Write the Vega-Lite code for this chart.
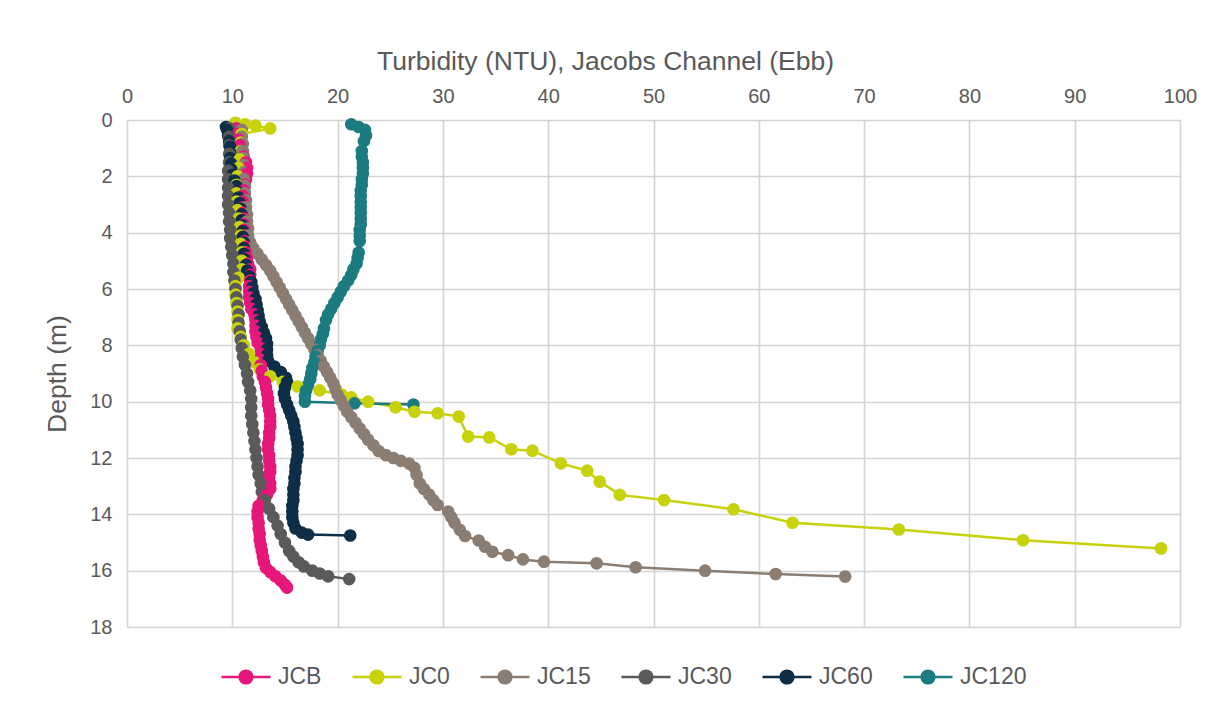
{
  "$schema": "https://vega.github.io/schema/vega-lite/v6.json",
  "width": 1053,
  "height": 507,
  "autosize": {"type": "none"},
  "padding": {"left": 127, "top": 120, "right": 46, "bottom": 81},
  "background": "white",
  "config": {
    "font": "Liberation Sans",
    "view": {"stroke": null},
    "axis": {
      "grid": true,
      "gridColor": "#d4d4d4",
      "gridWidth": 1.6,
      "domain": false,
      "ticks": false,
      "labelFlush": false,
      "labelColor": "#595959",
      "titleColor": "#595959",
      "labelFontSize": 20,
      "titleFontSize": 26.5,
      "titleFontWeight": "normal",
      "labelFont": "Liberation Sans",
      "titleFont": "Liberation Sans"
    },
    "legend": {
      "labelColor": "#595959",
      "labelFontSize": 23,
      "labelFont": "Liberation Sans"
    }
  },
  "data": {
    "values": [
      {"series": "JCB", "depth": 0.3, "turbidity": 10.4},
      {"series": "JCB", "depth": 0.5, "turbidity": 10.5},
      {"series": "JCB", "depth": 0.7, "turbidity": 10.6},
      {"series": "JCB", "depth": 0.9, "turbidity": 10.7},
      {"series": "JCB", "depth": 1.1, "turbidity": 10.9},
      {"series": "JCB", "depth": 1.3, "turbidity": 11.1},
      {"series": "JCB", "depth": 1.5, "turbidity": 11.3},
      {"series": "JCB", "depth": 1.7, "turbidity": 11.4},
      {"series": "JCB", "depth": 1.9, "turbidity": 11.4},
      {"series": "JCB", "depth": 2.1, "turbidity": 11.3},
      {"series": "JCB", "depth": 2.3, "turbidity": 11.2},
      {"series": "JCB", "depth": 2.5, "turbidity": 11.1},
      {"series": "JCB", "depth": 2.7, "turbidity": 11.0},
      {"series": "JCB", "depth": 2.9, "turbidity": 11.0},
      {"series": "JCB", "depth": 3.1, "turbidity": 11.0},
      {"series": "JCB", "depth": 3.3, "turbidity": 11.0},
      {"series": "JCB", "depth": 3.5, "turbidity": 11.1},
      {"series": "JCB", "depth": 3.7, "turbidity": 11.1},
      {"series": "JCB", "depth": 3.9, "turbidity": 11.1},
      {"series": "JCB", "depth": 4.1, "turbidity": 11.2},
      {"series": "JCB", "depth": 4.3, "turbidity": 11.2},
      {"series": "JCB", "depth": 4.5, "turbidity": 11.3},
      {"series": "JCB", "depth": 4.7, "turbidity": 11.3},
      {"series": "JCB", "depth": 4.9, "turbidity": 11.4},
      {"series": "JCB", "depth": 5.1, "turbidity": 11.5},
      {"series": "JCB", "depth": 5.3, "turbidity": 11.7},
      {"series": "JCB", "depth": 5.5, "turbidity": 11.7},
      {"series": "JCB", "depth": 5.7, "turbidity": 11.7},
      {"series": "JCB", "depth": 5.9, "turbidity": 11.6},
      {"series": "JCB", "depth": 6.1, "turbidity": 11.6},
      {"series": "JCB", "depth": 6.3, "turbidity": 11.6},
      {"series": "JCB", "depth": 6.5, "turbidity": 11.7},
      {"series": "JCB", "depth": 6.7, "turbidity": 11.8},
      {"series": "JCB", "depth": 6.9, "turbidity": 12.1},
      {"series": "JCB", "depth": 7.1, "turbidity": 12.2},
      {"series": "JCB", "depth": 7.3, "turbidity": 12.2},
      {"series": "JCB", "depth": 7.5, "turbidity": 12.2},
      {"series": "JCB", "depth": 7.7, "turbidity": 12.3},
      {"series": "JCB", "depth": 7.9, "turbidity": 12.4},
      {"series": "JCB", "depth": 8.1, "turbidity": 12.7},
      {"series": "JCB", "depth": 8.3, "turbidity": 12.7},
      {"series": "JCB", "depth": 8.5, "turbidity": 12.6},
      {"series": "JCB", "depth": 8.7, "turbidity": 12.7},
      {"series": "JCB", "depth": 8.9, "turbidity": 12.8},
      {"series": "JCB", "depth": 9.1, "turbidity": 12.9},
      {"series": "JCB", "depth": 9.3, "turbidity": 13.1},
      {"series": "JCB", "depth": 9.5, "turbidity": 13.2},
      {"series": "JCB", "depth": 9.7, "turbidity": 13.3},
      {"series": "JCB", "depth": 9.9, "turbidity": 13.4},
      {"series": "JCB", "depth": 10.1, "turbidity": 13.4},
      {"series": "JCB", "depth": 10.3, "turbidity": 13.5},
      {"series": "JCB", "depth": 10.5, "turbidity": 13.6},
      {"series": "JCB", "depth": 10.7, "turbidity": 13.6},
      {"series": "JCB", "depth": 10.9, "turbidity": 13.6},
      {"series": "JCB", "depth": 11.1, "turbidity": 13.5},
      {"series": "JCB", "depth": 11.3, "turbidity": 13.5},
      {"series": "JCB", "depth": 11.5, "turbidity": 13.4},
      {"series": "JCB", "depth": 11.7, "turbidity": 13.4},
      {"series": "JCB", "depth": 11.9, "turbidity": 13.5},
      {"series": "JCB", "depth": 12.1, "turbidity": 13.5},
      {"series": "JCB", "depth": 12.3, "turbidity": 13.6},
      {"series": "JCB", "depth": 12.5, "turbidity": 13.6},
      {"series": "JCB", "depth": 12.7, "turbidity": 13.5},
      {"series": "JCB", "depth": 12.9, "turbidity": 13.6},
      {"series": "JCB", "depth": 13.1, "turbidity": 13.6},
      {"series": "JCB", "depth": 13.3, "turbidity": 13.3},
      {"series": "JCB", "depth": 13.5, "turbidity": 12.9},
      {"series": "JCB", "depth": 13.7, "turbidity": 12.5},
      {"series": "JCB", "depth": 13.9, "turbidity": 12.4},
      {"series": "JCB", "depth": 14.1, "turbidity": 12.4},
      {"series": "JCB", "depth": 14.3, "turbidity": 12.5},
      {"series": "JCB", "depth": 14.5, "turbidity": 12.5},
      {"series": "JCB", "depth": 14.7, "turbidity": 12.6},
      {"series": "JCB", "depth": 14.9, "turbidity": 12.6},
      {"series": "JCB", "depth": 15.1, "turbidity": 12.7},
      {"series": "JCB", "depth": 15.3, "turbidity": 12.8},
      {"series": "JCB", "depth": 15.5, "turbidity": 12.9},
      {"series": "JCB", "depth": 15.7, "turbidity": 13.0},
      {"series": "JCB", "depth": 15.9, "turbidity": 13.2},
      {"series": "JCB", "depth": 16.05, "turbidity": 13.6},
      {"series": "JCB", "depth": 16.2, "turbidity": 14.1},
      {"series": "JCB", "depth": 16.35, "turbidity": 14.6},
      {"series": "JCB", "depth": 16.5, "turbidity": 15.0},
      {"series": "JCB", "depth": 16.6, "turbidity": 15.2},

      {"series": "JC0", "depth": 0.1, "turbidity": 10.3},
      {"series": "JC0", "depth": 0.15, "turbidity": 11.2},
      {"series": "JC0", "depth": 0.2, "turbidity": 12.2},
      {"series": "JC0", "depth": 0.3, "turbidity": 13.6},
      {"series": "JC0", "depth": 0.5, "turbidity": 10.9},
      {"series": "JC0", "depth": 0.8, "turbidity": 10.8},
      {"series": "JC0", "depth": 1.1, "turbidity": 10.8},
      {"series": "JC0", "depth": 1.4, "turbidity": 10.7},
      {"series": "JC0", "depth": 1.7, "turbidity": 10.6},
      {"series": "JC0", "depth": 2.0, "turbidity": 10.5},
      {"series": "JC0", "depth": 2.3, "turbidity": 10.4},
      {"series": "JC0", "depth": 2.6, "turbidity": 10.4},
      {"series": "JC0", "depth": 2.9, "turbidity": 10.4},
      {"series": "JC0", "depth": 3.2, "turbidity": 10.5},
      {"series": "JC0", "depth": 3.5, "turbidity": 10.6},
      {"series": "JC0", "depth": 3.8, "turbidity": 10.7},
      {"series": "JC0", "depth": 4.1, "turbidity": 10.8},
      {"series": "JC0", "depth": 4.4, "turbidity": 10.8},
      {"series": "JC0", "depth": 4.7, "turbidity": 10.9},
      {"series": "JC0", "depth": 5.0, "turbidity": 10.9},
      {"series": "JC0", "depth": 5.3, "turbidity": 10.9},
      {"series": "JC0", "depth": 5.6, "turbidity": 10.6},
      {"series": "JC0", "depth": 5.9, "turbidity": 10.3},
      {"series": "JC0", "depth": 6.2, "turbidity": 10.3},
      {"series": "JC0", "depth": 6.5, "turbidity": 10.4},
      {"series": "JC0", "depth": 6.8, "turbidity": 10.5},
      {"series": "JC0", "depth": 7.1, "turbidity": 10.5},
      {"series": "JC0", "depth": 7.4, "turbidity": 10.5},
      {"series": "JC0", "depth": 7.7, "turbidity": 10.8},
      {"series": "JC0", "depth": 8.0, "turbidity": 11.1},
      {"series": "JC0", "depth": 8.3, "turbidity": 11.6},
      {"series": "JC0", "depth": 8.6, "turbidity": 12.1},
      {"series": "JC0", "depth": 8.85, "turbidity": 12.6},
      {"series": "JC0", "depth": 9.1, "turbidity": 13.6},
      {"series": "JC0", "depth": 9.3, "turbidity": 14.8},
      {"series": "JC0", "depth": 9.46, "turbidity": 16.2},
      {"series": "JC0", "depth": 9.6, "turbidity": 18.3},
      {"series": "JC0", "depth": 9.75, "turbidity": 20.4},
      {"series": "JC0", "depth": 9.85, "turbidity": 21.3},
      {"series": "JC0", "depth": 10.0, "turbidity": 22.9},
      {"series": "JC0", "depth": 10.2, "turbidity": 25.5},
      {"series": "JC0", "depth": 10.36, "turbidity": 27.3},
      {"series": "JC0", "depth": 10.41, "turbidity": 29.5},
      {"series": "JC0", "depth": 10.53, "turbidity": 31.5},
      {"series": "JC0", "depth": 11.24, "turbidity": 32.4},
      {"series": "JC0", "depth": 11.27, "turbidity": 34.4},
      {"series": "JC0", "depth": 11.69, "turbidity": 36.5},
      {"series": "JC0", "depth": 11.74, "turbidity": 38.5},
      {"series": "JC0", "depth": 12.19, "turbidity": 41.2},
      {"series": "JC0", "depth": 12.45, "turbidity": 43.7},
      {"series": "JC0", "depth": 12.84, "turbidity": 44.9},
      {"series": "JC0", "depth": 13.31, "turbidity": 46.8},
      {"series": "JC0", "depth": 13.49, "turbidity": 51.0},
      {"series": "JC0", "depth": 13.82, "turbidity": 57.6},
      {"series": "JC0", "depth": 14.3, "turbidity": 63.2},
      {"series": "JC0", "depth": 14.54, "turbidity": 73.3},
      {"series": "JC0", "depth": 14.92, "turbidity": 85.1},
      {"series": "JC0", "depth": 15.21, "turbidity": 98.2},

      {"series": "JC15", "depth": 0.35, "turbidity": 10.9},
      {"series": "JC15", "depth": 0.6, "turbidity": 10.9},
      {"series": "JC15", "depth": 0.85, "turbidity": 11.0},
      {"series": "JC15", "depth": 1.1, "turbidity": 11.0},
      {"series": "JC15", "depth": 1.35, "turbidity": 11.1},
      {"series": "JC15", "depth": 1.6, "turbidity": 11.1},
      {"series": "JC15", "depth": 1.85, "turbidity": 11.1},
      {"series": "JC15", "depth": 2.1, "turbidity": 11.1},
      {"series": "JC15", "depth": 2.35, "turbidity": 11.2},
      {"series": "JC15", "depth": 2.6, "turbidity": 11.2},
      {"series": "JC15", "depth": 2.85, "turbidity": 11.3},
      {"series": "JC15", "depth": 3.1, "turbidity": 11.3},
      {"series": "JC15", "depth": 3.35, "turbidity": 11.4},
      {"series": "JC15", "depth": 3.6, "turbidity": 11.4},
      {"series": "JC15", "depth": 3.85, "turbidity": 11.5},
      {"series": "JC15", "depth": 4.1, "turbidity": 11.5},
      {"series": "JC15", "depth": 4.35, "turbidity": 11.7},
      {"series": "JC15", "depth": 4.55, "turbidity": 12.0},
      {"series": "JC15", "depth": 4.75, "turbidity": 12.4},
      {"series": "JC15", "depth": 4.95, "turbidity": 12.8},
      {"series": "JC15", "depth": 5.15, "turbidity": 13.2},
      {"series": "JC15", "depth": 5.35, "turbidity": 13.6},
      {"series": "JC15", "depth": 5.55, "turbidity": 13.9},
      {"series": "JC15", "depth": 5.75, "turbidity": 14.2},
      {"series": "JC15", "depth": 5.95, "turbidity": 14.5},
      {"series": "JC15", "depth": 6.15, "turbidity": 14.8},
      {"series": "JC15", "depth": 6.35, "turbidity": 15.1},
      {"series": "JC15", "depth": 6.55, "turbidity": 15.4},
      {"series": "JC15", "depth": 6.75, "turbidity": 15.7},
      {"series": "JC15", "depth": 6.95, "turbidity": 16.0},
      {"series": "JC15", "depth": 7.15, "turbidity": 16.3},
      {"series": "JC15", "depth": 7.35, "turbidity": 16.6},
      {"series": "JC15", "depth": 7.55, "turbidity": 16.9},
      {"series": "JC15", "depth": 7.75, "turbidity": 17.2},
      {"series": "JC15", "depth": 7.95, "turbidity": 17.5},
      {"series": "JC15", "depth": 8.15, "turbidity": 17.8},
      {"series": "JC15", "depth": 8.35, "turbidity": 18.1},
      {"series": "JC15", "depth": 8.55, "turbidity": 18.4},
      {"series": "JC15", "depth": 8.75, "turbidity": 18.7},
      {"series": "JC15", "depth": 8.95, "turbidity": 19.0},
      {"series": "JC15", "depth": 9.15, "turbidity": 19.3},
      {"series": "JC15", "depth": 9.35, "turbidity": 19.6},
      {"series": "JC15", "depth": 9.55, "turbidity": 19.8},
      {"series": "JC15", "depth": 9.75, "turbidity": 20.0},
      {"series": "JC15", "depth": 9.95, "turbidity": 20.3},
      {"series": "JC15", "depth": 10.15, "turbidity": 20.6},
      {"series": "JC15", "depth": 10.35, "turbidity": 20.9},
      {"series": "JC15", "depth": 10.55, "turbidity": 21.3},
      {"series": "JC15", "depth": 10.75, "turbidity": 21.7},
      {"series": "JC15", "depth": 10.95, "turbidity": 22.1},
      {"series": "JC15", "depth": 11.15, "turbidity": 22.5},
      {"series": "JC15", "depth": 11.35, "turbidity": 22.9},
      {"series": "JC15", "depth": 11.55, "turbidity": 23.4},
      {"series": "JC15", "depth": 11.75, "turbidity": 23.9},
      {"series": "JC15", "depth": 11.9, "turbidity": 24.6},
      {"series": "JC15", "depth": 12.0, "turbidity": 25.3},
      {"series": "JC15", "depth": 12.1, "turbidity": 26.0},
      {"series": "JC15", "depth": 12.2, "turbidity": 26.8},
      {"series": "JC15", "depth": 12.35, "turbidity": 27.3},
      {"series": "JC15", "depth": 12.6, "turbidity": 27.5},
      {"series": "JC15", "depth": 12.9, "turbidity": 27.8},
      {"series": "JC15", "depth": 13.1, "turbidity": 28.2},
      {"series": "JC15", "depth": 13.3, "turbidity": 28.7},
      {"series": "JC15", "depth": 13.5, "turbidity": 29.1},
      {"series": "JC15", "depth": 13.67, "turbidity": 29.5},
      {"series": "JC15", "depth": 13.9, "turbidity": 30.5},
      {"series": "JC15", "depth": 14.1, "turbidity": 30.8},
      {"series": "JC15", "depth": 14.3, "turbidity": 31.1},
      {"series": "JC15", "depth": 14.55, "turbidity": 31.6},
      {"series": "JC15", "depth": 14.77, "turbidity": 32.1},
      {"series": "JC15", "depth": 14.93, "turbidity": 33.4},
      {"series": "JC15", "depth": 15.15, "turbidity": 34.0},
      {"series": "JC15", "depth": 15.33, "turbidity": 34.7},
      {"series": "JC15", "depth": 15.45, "turbidity": 36.2},
      {"series": "JC15", "depth": 15.6, "turbidity": 37.6},
      {"series": "JC15", "depth": 15.68, "turbidity": 39.6},
      {"series": "JC15", "depth": 15.74, "turbidity": 44.6},
      {"series": "JC15", "depth": 15.88, "turbidity": 48.3},
      {"series": "JC15", "depth": 16.0, "turbidity": 54.9},
      {"series": "JC15", "depth": 16.12, "turbidity": 61.6},
      {"series": "JC15", "depth": 16.21, "turbidity": 68.2},

      {"series": "JC30", "depth": 0.3, "turbidity": 9.7},
      {"series": "JC30", "depth": 0.6, "turbidity": 9.7},
      {"series": "JC30", "depth": 0.9, "turbidity": 9.7},
      {"series": "JC30", "depth": 1.2, "turbidity": 9.7},
      {"series": "JC30", "depth": 1.5, "turbidity": 9.7},
      {"series": "JC30", "depth": 1.8, "turbidity": 9.6},
      {"series": "JC30", "depth": 2.1, "turbidity": 9.6},
      {"series": "JC30", "depth": 2.4, "turbidity": 9.6},
      {"series": "JC30", "depth": 2.7, "turbidity": 9.6},
      {"series": "JC30", "depth": 3.0, "turbidity": 9.6},
      {"series": "JC30", "depth": 3.3, "turbidity": 9.7},
      {"series": "JC30", "depth": 3.6, "turbidity": 9.7},
      {"series": "JC30", "depth": 3.9, "turbidity": 9.8},
      {"series": "JC30", "depth": 4.2, "turbidity": 9.8},
      {"series": "JC30", "depth": 4.5, "turbidity": 9.9},
      {"series": "JC30", "depth": 4.8, "turbidity": 10.0},
      {"series": "JC30", "depth": 5.1, "turbidity": 10.1},
      {"series": "JC30", "depth": 5.4, "turbidity": 10.1},
      {"series": "JC30", "depth": 5.7, "turbidity": 10.2},
      {"series": "JC30", "depth": 6.0, "turbidity": 10.3},
      {"series": "JC30", "depth": 6.3, "turbidity": 10.4},
      {"series": "JC30", "depth": 6.6, "turbidity": 10.5},
      {"series": "JC30", "depth": 6.9, "turbidity": 10.6},
      {"series": "JC30", "depth": 7.2, "turbidity": 10.6},
      {"series": "JC30", "depth": 7.5, "turbidity": 10.7},
      {"series": "JC30", "depth": 7.8, "turbidity": 10.8},
      {"series": "JC30", "depth": 8.1, "turbidity": 10.9},
      {"series": "JC30", "depth": 8.4, "turbidity": 11.0},
      {"series": "JC30", "depth": 8.7, "turbidity": 11.2},
      {"series": "JC30", "depth": 9.0, "turbidity": 11.4},
      {"series": "JC30", "depth": 9.3, "turbidity": 11.5},
      {"series": "JC30", "depth": 9.6, "turbidity": 11.7},
      {"series": "JC30", "depth": 9.9, "turbidity": 11.8},
      {"series": "JC30", "depth": 10.2, "turbidity": 11.8},
      {"series": "JC30", "depth": 10.5, "turbidity": 11.8},
      {"series": "JC30", "depth": 10.8, "turbidity": 11.9},
      {"series": "JC30", "depth": 11.1, "turbidity": 12.0},
      {"series": "JC30", "depth": 11.4, "turbidity": 12.1},
      {"series": "JC30", "depth": 11.7, "turbidity": 12.2},
      {"series": "JC30", "depth": 12.0, "turbidity": 12.3},
      {"series": "JC30", "depth": 12.3, "turbidity": 12.4},
      {"series": "JC30", "depth": 12.6, "turbidity": 12.5},
      {"series": "JC30", "depth": 12.9, "turbidity": 12.7},
      {"series": "JC30", "depth": 13.2, "turbidity": 12.8},
      {"series": "JC30", "depth": 13.5, "turbidity": 13.1},
      {"series": "JC30", "depth": 13.8, "turbidity": 13.5},
      {"series": "JC30", "depth": 14.1, "turbidity": 13.9},
      {"series": "JC30", "depth": 14.4, "turbidity": 14.3},
      {"series": "JC30", "depth": 14.7, "turbidity": 14.6},
      {"series": "JC30", "depth": 15.0, "turbidity": 15.0},
      {"series": "JC30", "depth": 15.3, "turbidity": 15.4},
      {"series": "JC30", "depth": 15.5, "turbidity": 15.8},
      {"series": "JC30", "depth": 15.7, "turbidity": 16.3},
      {"series": "JC30", "depth": 15.85, "turbidity": 16.8},
      {"series": "JC30", "depth": 16.0, "turbidity": 17.6},
      {"series": "JC30", "depth": 16.1, "turbidity": 18.3},
      {"series": "JC30", "depth": 16.2, "turbidity": 19.1},
      {"series": "JC30", "depth": 16.3, "turbidity": 21.1},

      {"series": "JC60", "depth": 0.25, "turbidity": 9.4},
      {"series": "JC60", "depth": 0.35, "turbidity": 9.5},
      {"series": "JC60", "depth": 0.55, "turbidity": 9.6},
      {"series": "JC60", "depth": 0.75, "turbidity": 9.7},
      {"series": "JC60", "depth": 0.95, "turbidity": 9.8},
      {"series": "JC60", "depth": 1.15, "turbidity": 9.8},
      {"series": "JC60", "depth": 1.35, "turbidity": 9.8},
      {"series": "JC60", "depth": 1.55, "turbidity": 9.9},
      {"series": "JC60", "depth": 1.75, "turbidity": 9.9},
      {"series": "JC60", "depth": 1.95, "turbidity": 10.0},
      {"series": "JC60", "depth": 2.15, "turbidity": 10.2},
      {"series": "JC60", "depth": 2.35, "turbidity": 10.4},
      {"series": "JC60", "depth": 2.55, "turbidity": 10.5},
      {"series": "JC60", "depth": 2.75, "turbidity": 10.6},
      {"series": "JC60", "depth": 2.95, "turbidity": 10.7},
      {"series": "JC60", "depth": 3.15, "turbidity": 10.8},
      {"series": "JC60", "depth": 3.35, "turbidity": 10.9},
      {"series": "JC60", "depth": 3.55, "turbidity": 10.9},
      {"series": "JC60", "depth": 3.75, "turbidity": 11.0},
      {"series": "JC60", "depth": 3.95, "turbidity": 11.0},
      {"series": "JC60", "depth": 4.15, "turbidity": 11.0},
      {"series": "JC60", "depth": 4.35, "turbidity": 11.1},
      {"series": "JC60", "depth": 4.55, "turbidity": 11.1},
      {"series": "JC60", "depth": 4.75, "turbidity": 11.1},
      {"series": "JC60", "depth": 4.95, "turbidity": 11.2},
      {"series": "JC60", "depth": 5.15, "turbidity": 11.3},
      {"series": "JC60", "depth": 5.35, "turbidity": 11.4},
      {"series": "JC60", "depth": 5.55, "turbidity": 11.6},
      {"series": "JC60", "depth": 5.75, "turbidity": 11.8},
      {"series": "JC60", "depth": 5.95, "turbidity": 11.9},
      {"series": "JC60", "depth": 6.15, "turbidity": 12.0},
      {"series": "JC60", "depth": 6.35, "turbidity": 12.2},
      {"series": "JC60", "depth": 6.55, "turbidity": 12.3},
      {"series": "JC60", "depth": 6.75, "turbidity": 12.4},
      {"series": "JC60", "depth": 6.95, "turbidity": 12.5},
      {"series": "JC60", "depth": 7.15, "turbidity": 12.6},
      {"series": "JC60", "depth": 7.35, "turbidity": 12.8},
      {"series": "JC60", "depth": 7.55, "turbidity": 13.0},
      {"series": "JC60", "depth": 7.75, "turbidity": 13.2},
      {"series": "JC60", "depth": 7.95, "turbidity": 13.3},
      {"series": "JC60", "depth": 8.15, "turbidity": 13.3},
      {"series": "JC60", "depth": 8.35, "turbidity": 13.3},
      {"series": "JC60", "depth": 8.55, "turbidity": 13.4},
      {"series": "JC60", "depth": 8.75, "turbidity": 14.0},
      {"series": "JC60", "depth": 8.95, "turbidity": 14.6},
      {"series": "JC60", "depth": 9.15, "turbidity": 15.1},
      {"series": "JC60", "depth": 9.3, "turbidity": 15.2},
      {"series": "JC60", "depth": 9.5, "turbidity": 15.0},
      {"series": "JC60", "depth": 9.7, "turbidity": 14.9},
      {"series": "JC60", "depth": 9.9, "turbidity": 15.0},
      {"series": "JC60", "depth": 10.1, "turbidity": 15.2},
      {"series": "JC60", "depth": 10.3, "turbidity": 15.4},
      {"series": "JC60", "depth": 10.5, "turbidity": 15.6},
      {"series": "JC60", "depth": 10.7, "turbidity": 15.8},
      {"series": "JC60", "depth": 10.9, "turbidity": 15.9},
      {"series": "JC60", "depth": 11.1, "turbidity": 16.0},
      {"series": "JC60", "depth": 11.3, "turbidity": 16.1},
      {"series": "JC60", "depth": 11.5, "turbidity": 16.2},
      {"series": "JC60", "depth": 11.7, "turbidity": 16.2},
      {"series": "JC60", "depth": 11.9, "turbidity": 16.2},
      {"series": "JC60", "depth": 12.1, "turbidity": 16.1},
      {"series": "JC60", "depth": 12.3, "turbidity": 16.0},
      {"series": "JC60", "depth": 12.5, "turbidity": 16.0},
      {"series": "JC60", "depth": 12.7, "turbidity": 15.9},
      {"series": "JC60", "depth": 12.9, "turbidity": 15.9},
      {"series": "JC60", "depth": 13.1, "turbidity": 15.8},
      {"series": "JC60", "depth": 13.3, "turbidity": 15.8},
      {"series": "JC60", "depth": 13.5, "turbidity": 15.8},
      {"series": "JC60", "depth": 13.7, "turbidity": 15.7},
      {"series": "JC60", "depth": 13.9, "turbidity": 15.7},
      {"series": "JC60", "depth": 14.1, "turbidity": 15.7},
      {"series": "JC60", "depth": 14.3, "turbidity": 15.8},
      {"series": "JC60", "depth": 14.5, "turbidity": 16.0},
      {"series": "JC60", "depth": 14.65, "turbidity": 16.6},
      {"series": "JC60", "depth": 14.72, "turbidity": 17.2},
      {"series": "JC60", "depth": 14.75, "turbidity": 21.2},

      {"series": "JC120", "depth": 0.15, "turbidity": 21.3},
      {"series": "JC120", "depth": 0.25, "turbidity": 22.0},
      {"series": "JC120", "depth": 0.35, "turbidity": 22.6},
      {"series": "JC120", "depth": 0.55, "turbidity": 22.7},
      {"series": "JC120", "depth": 0.75, "turbidity": 22.5},
      {"series": "JC120", "depth": 1.1, "turbidity": 22.3},
      {"series": "JC120", "depth": 1.3, "turbidity": 22.3},
      {"series": "JC120", "depth": 1.5, "turbidity": 22.4},
      {"series": "JC120", "depth": 1.7, "turbidity": 22.4},
      {"series": "JC120", "depth": 1.9, "turbidity": 22.4},
      {"series": "JC120", "depth": 2.1, "turbidity": 22.3},
      {"series": "JC120", "depth": 2.3, "turbidity": 22.3},
      {"series": "JC120", "depth": 2.5, "turbidity": 22.2},
      {"series": "JC120", "depth": 2.7, "turbidity": 22.2},
      {"series": "JC120", "depth": 2.9, "turbidity": 22.2},
      {"series": "JC120", "depth": 3.1, "turbidity": 22.2},
      {"series": "JC120", "depth": 3.3, "turbidity": 22.2},
      {"series": "JC120", "depth": 3.5, "turbidity": 22.2},
      {"series": "JC120", "depth": 3.7, "turbidity": 22.2},
      {"series": "JC120", "depth": 3.9, "turbidity": 22.1},
      {"series": "JC120", "depth": 4.1, "turbidity": 22.1},
      {"series": "JC120", "depth": 4.3, "turbidity": 22.1},
      {"series": "JC120", "depth": 4.7, "turbidity": 22.0},
      {"series": "JC120", "depth": 4.9, "turbidity": 21.9},
      {"series": "JC120", "depth": 5.1, "turbidity": 21.8},
      {"series": "JC120", "depth": 5.3, "turbidity": 21.5},
      {"series": "JC120", "depth": 5.5, "turbidity": 21.3},
      {"series": "JC120", "depth": 5.7, "turbidity": 21.0},
      {"series": "JC120", "depth": 5.9, "turbidity": 20.6},
      {"series": "JC120", "depth": 6.1, "turbidity": 20.3},
      {"series": "JC120", "depth": 6.3, "turbidity": 20.0},
      {"series": "JC120", "depth": 6.5, "turbidity": 19.7},
      {"series": "JC120", "depth": 6.7, "turbidity": 19.4},
      {"series": "JC120", "depth": 6.9, "turbidity": 19.1},
      {"series": "JC120", "depth": 7.1, "turbidity": 18.9},
      {"series": "JC120", "depth": 7.4, "turbidity": 18.7},
      {"series": "JC120", "depth": 7.6, "turbidity": 18.6},
      {"series": "JC120", "depth": 7.8, "turbidity": 18.4},
      {"series": "JC120", "depth": 8.0, "turbidity": 18.3},
      {"series": "JC120", "depth": 8.2, "turbidity": 18.1},
      {"series": "JC120", "depth": 8.4, "turbidity": 17.9},
      {"series": "JC120", "depth": 8.6, "turbidity": 17.8},
      {"series": "JC120", "depth": 8.8, "turbidity": 17.6},
      {"series": "JC120", "depth": 9.0, "turbidity": 17.5},
      {"series": "JC120", "depth": 9.2, "turbidity": 17.4},
      {"series": "JC120", "depth": 9.4, "turbidity": 17.2},
      {"series": "JC120", "depth": 9.6, "turbidity": 17.0},
      {"series": "JC120", "depth": 9.8, "turbidity": 16.9},
      {"series": "JC120", "depth": 10.0, "turbidity": 16.9},
      {"series": "JC120", "depth": 10.06, "turbidity": 21.6},
      {"series": "JC120", "depth": 10.1, "turbidity": 27.2}
    ]
  },
  "encoding": {
    "x": {
      "field": "turbidity",
      "type": "quantitative",
      "scale": {"domain": [0, 100], "nice": false, "zero": false},
      "axis": {
        "orient": "top",
        "title": "Turbidity (NTU), Jacobs Channel (Ebb)",
        "values": [0, 10, 20, 30, 40, 50, 60, 70, 80, 90, 100],
        "labelPadding": 14,
        "titlePadding": 11,
        "titleX": 478
      }
    },
    "y": {
      "field": "depth",
      "type": "quantitative",
      "scale": {"domain": [0, 18], "nice": false, "reverse": true},
      "axis": {
        "title": "Depth (m)",
        "values": [0, 2, 4, 6, 8, 10, 12, 14, 16, 18],
        "labelPadding": 15,
        "titlePadding": 18
      }
    },
    "color": {
      "field": "series",
      "type": "nominal",
      "scale": {
        "domain": ["JCB", "JC0", "JC15", "JC30", "JC60", "JC120"],
        "range": ["#e6177a", "#c8d20a", "#8b7d72", "#5a5a5a", "#0e2d47", "#1b7b80"]
      },
      "legend": {
        "title": null,
        "orient": "none",
        "direction": "horizontal",
        "legendX": 93,
        "legendY": 531,
        "symbolType": "M-1,0L1,0M-0.26,0A0.26,0.26,0,1,1,0.26,0A0.26,0.26,0,1,1,-0.26,0Z",
        "symbolSize": 2400,
        "symbolStrokeWidth": 2.5,
        "labelOffset": 6,
        "columnPadding": 25,
        "encode": {
          "symbols": {
            "update": {
              "fill": {"scale": "color", "field": "value"},
              "stroke": {"scale": "color", "field": "value"},
              "opacity": {"value": 1}
            }
          }
        }
      }
    },
    "order": {"field": "depth", "type": "quantitative"}
  },
  "layer": [
    {"mark": {"type": "line", "strokeWidth": 2.5}},
    {"mark": {"type": "point", "filled": true, "size": 160, "opacity": 1}}
  ]
}
